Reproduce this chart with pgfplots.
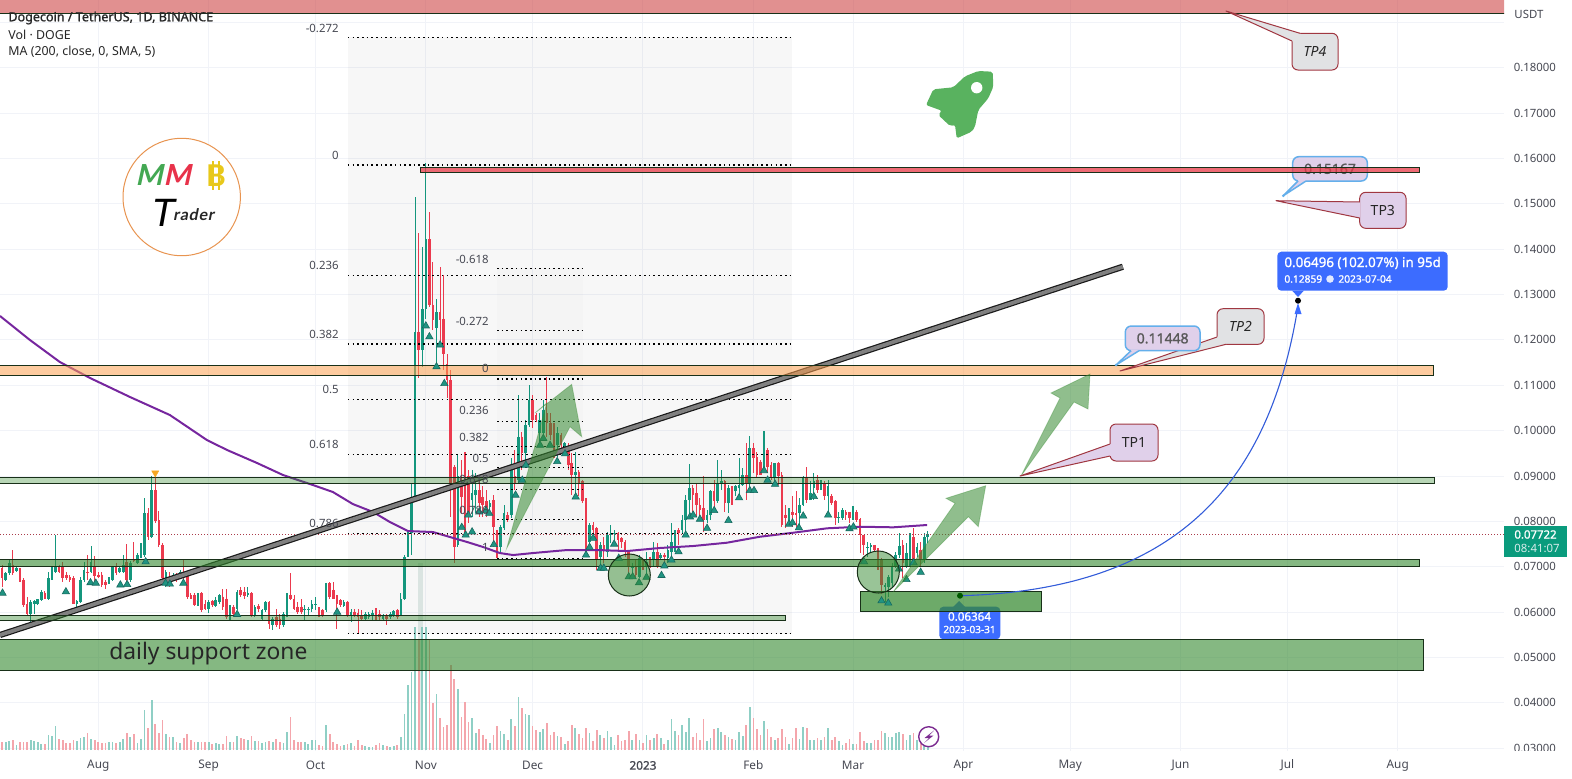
\documentclass[border=0pt]{standalone}
\usepackage{pgfplots}
\usepackage{pgfplotstable}
\usepackage{fontspec}
\setmainfont{Noto Sans}
\newfontfamily\logofont{Lato}
\newfontfamily\fbold{Noto Sans}[FakeBold=1.2]
\pgfplotsset{compat=1.18}
\definecolor{upc}{RGB}{20,150,125}
\definecolor{dnc}{RGB}{235,58,78}
\definecolor{vup}{RGB}{143,207,197}
\definecolor{vdn}{RGB}{244,166,172}
\definecolor{txt}{RGB}{70,72,82}
\definecolor{grd}{RGB}{241,243,248}
\definecolor{zg}{RGB}{52,137,47}
\definecolor{zb}{RGB}{24,48,24}
\definecolor{blu}{RGB}{60,108,255}
\definecolor{lil}{RGB}{224,208,234}
\definecolor{gry}{RGB}{225,226,228}
\definecolor{bdr}{RGB}{160,55,65}
\definecolor{lbl}{RGB}{100,175,235}
\definecolor{tri}{RGB}{32,148,130}
\definecolor{trid}{RGB}{24,105,95}
\definecolor{oran}{RGB}{245,166,35}
\definecolor{zred}{RGB}{205,70,70}
\definecolor{zred2}{RGB}{232,58,71}
\definecolor{zor}{RGB}{252,160,80}
\definecolor{mac}{RGB}{118,38,158}
\definecolor{lastp}{RGB}{170,60,75}
\definecolor{logoo}{RGB}{232,148,80}
\definecolor{logog}{RGB}{67,168,83}
\definecolor{logor}{RGB}{232,50,74}
\definecolor{logoy}{RGB}{232,200,26}
\definecolor{rock}{RGB}{89,178,95}
\definecolor{icon}{RGB}{123,42,144}
\definecolor{tagg}{RGB}{10,155,125}
\definecolor{pale}{RGB}{226,236,233}
\newcommand{\fs}[1]{\fontsize{#1}{#1}\selectfont}
% d = days since 1 Aug 2022; o h l c prices; v volume
\pgfplotstableread{
d o h l c v
-27 .0697 .0704 .0656 .0675 25
-26 .0671 .0689 .0670 .0686 25
-25 .0686 .0715 .0682 .0708 28
-24 .0704 .0737 .0682 .0686 30
-23 .0691 .0700 .0689 .0697 15
-22 .0693 .0697 .0667 .0671 25
-21 .0672 .0675 .0612 .0616 25
-20 .0619 .0634 .0594 .0597 25
-19 .0597 .0627 .0579 .0623 30
-18 .0619 .0627 .0597 .0625 28
-17 .0619 .0630 .0618 .0628 25
-16 .0627 .0649 .0625 .0645 18
-15 .0643 .0647 .0628 .0630 18
-14 .0630 .0689 .0628 .0675 45
-13 .0675 .0700 .0671 .0689 42
-12 .0689 .0770 .0686 .0700 72
-11 .0701 .0704 .0686 .0689 32
-10 .0700 .0711 .0667 .0675 30
-9 .0682 .0689 .0671 .0675 22
-8 .0678 .0682 .0667 .0671 20
-7 .0675 .0680 .0618 .0619 30
-6 .0619 .0627 .0605 .0624 28
-5 .0623 .0678 .0621 .0672 37
-4 .0671 .0711 .0667 .0693 38
-3 .0689 .0726 .0671 .0687 50
-2 .0689 .0746 .0686 .0711 33
-1 .0700 .0724 .0667 .0680 30
0 .0683 .0689 .0675 .0678 25
1 .0683 .0689 .0656 .0660 22
2 .0667 .0671 .0652 .0660 20
3 .0664 .0677 .0662 .0675 25
4 .0671 .0702 .0669 .0700 25
5 .0700 .0708 .0682 .0686 20
6 .0689 .0700 .0686 .0697 25
7 .0689 .0726 .0686 .0704 32
8 .0711 .0750 .0667 .0671 52
9 .0671 .0713 .0667 .0708 40
10 .0715 .0755 .0711 .0713 48
11 .0708 .0730 .0706 .0726 22
12 .0722 .0752 .0721 .0730 32
13 .0726 .0851 .0722 .0819 120
14 .0819 .0829 .0759 .0766 65
15 .0766 .0899 .0763 .0869 150
16 .0869 .0906 .0796 .0800 78
17 .0803 .0824 .0744 .0748 50
18 .0748 .0752 .0671 .0675 90
19 .0675 .0693 .0656 .0689 48
20 .0678 .0689 .0656 .0664 38
21 .0675 .0686 .0671 .0683 38
22 .0680 .0686 .0667 .0671 25
23 .0678 .0693 .0675 .0689 22
24 .0689 .0718 .0671 .0678 35
25 .0686 .0689 .0630 .0634 48
26 .0638 .0642 .0628 .0630 30
27 .0638 .0642 .0614 .0616 25
28 .0616 .0642 .0614 .0640 25
29 .0642 .0645 .0601 .0605 25
30 .0619 .0627 .0605 .0608 25
31 .0608 .0627 .0599 .0623 25
32 .0625 .0627 .0612 .0616 18
33 .0614 .0634 .0612 .0627 22
34 .0623 .0640 .0619 .0638 18
35 .0634 .0652 .0605 .0612 18
36 .0630 .0652 .0586 .0590 42
37 .0590 .0616 .0583 .0610 25
38 .0612 .0616 .0594 .0597 25
39 .0608 .0649 .0605 .0645 42
40 .0649 .0656 .0634 .0638 35
41 .0645 .0656 .0630 .0636 32
42 .0638 .0656 .0634 .0642 30
43 .0642 .0645 .0590 .0594 42
44 .0594 .0616 .0590 .0612 28
45 .0614 .0619 .0601 .0606 28
46 .0586 .0608 .0584 .0605 22
47 .0605 .0625 .0601 .0623 25
48 .0623 .0625 .0564 .0575 27
49 .0572 .0590 .0561 .0586 25
50 .0590 .0608 .0568 .0572 32
51 .0586 .0597 .0564 .0572 25
52 .0572 .0601 .0568 .0597 22
53 .0594 .0643 .0590 .0634 55
54 .0638 .0686 .0627 .0630 100
55 .0630 .0638 .0605 .0608 30
56 .0612 .0623 .0597 .0601 25
57 .0612 .0630 .0597 .0601 25
58 .0605 .0616 .0583 .0608 25
59 .0605 .0612 .0594 .0608 18
60 .0608 .0627 .0601 .0619 30
61 .0616 .0634 .0605 .0619 30
62 .0608 .0612 .0590 .0594 15
63 .0605 .0608 .0590 .0594 12
64 .0605 .0665 .0601 .0664 75
65 .0664 .0667 .0630 .0634 48
66 .0649 .0667 .0628 .0630 25
67 .0638 .0638 .0564 .0619 18
68 .0627 .0630 .0612 .0616 12
69 .0614 .0627 .0612 .0623 15
70 .0623 .0625 .0590 .0594 18
71 .0594 .0608 .0579 .0601 22
72 .0601 .0608 .0590 .0594 12
73 .0599 .0608 .0553 .0590 30
74 .0594 .0605 .0583 .0585 15
75 .0586 .0601 .0583 .0596 12
76 .0590 .0601 .0586 .0597 8
77 .0594 .0605 .0583 .0599 10
78 .0601 .0610 .0583 .0586 15
79 .0597 .0605 .0583 .0590 22
80 .0586 .0597 .0584 .0594 15
81 .0594 .0597 .0572 .0586 12
82 .0590 .0601 .0586 .0597 10
83 .0594 .0605 .0590 .0603 12
84 .0605 .0608 .0586 .0590 15
85 .0594 .0642 .0594 .0630 40
86 .0630 .0726 .0628 .0722 108
87 .0726 .0777 .0722 .0770 195
88 .0774 .0884 .0726 .0843 235
89 .0847 .1516 .0844 .1218 370
90 .1218 .1435 .1115 .1178 330
91 .1178 .1405 .1141 .1269 370
92 .1269 .1589 .1247 .1422 370
93 .1422 .1483 .1273 .1277 330
94 .1277 .1372 .1222 .1244 140
95 .1226 .1291 .1145 .1262 168
96 .1262 .1361 .1185 .1244 95
97 .1247 .1342 .1134 .1170 70
98 .1148 .1170 .1071 .1112 75
99 .1112 .1134 .0810 .0884 255
100 .0921 .0924 .0708 .0744 213
101 .0748 .0946 .0744 .0899 183
102 .0891 .0935 .0818 .0854 98
103 .0884 .0954 .0774 .0847 143
104 .0899 .0913 .0796 .0818 85
105 .0847 .0913 .0810 .0862 95
106 .0858 .0906 .0818 .0869 50
107 .0869 .0895 .0810 .0840 62
108 .0854 .0877 .0810 .0836 45
109 .0844 .0869 .0810 .0825 33
110 .0832 .0847 .0825 .0840 20
111 .0847 .0858 .0744 .0788 45
112 .0774 .0781 .0719 .0744 72
113 .0744 .0792 .0730 .0788 57
114 .0785 .0836 .0781 .0818 48
115 .0814 .0821 .0799 .0803 30
116 .0814 .0939 .0807 .0913 92
117 .0899 .0957 .0869 .0884 72
118 .0891 .1079 .0884 .0987 158
119 .0987 .0998 .0913 .0950 125
120 .0950 .1023 .0928 .1012 107
121 .1012 .1101 .1009 .1068 105
122 .1068 .1079 .1005 .1023 72
123 .1035 .1038 .1020 .1023 60
124 .0994 .1038 .0972 .1023 55
125 .0994 .1068 .0987 .1046 63
126 .1038 .1119 .0987 .1016 82
127 .1016 .1038 .0979 .0990 45
128 .1005 .1016 .0939 .0957 55
129 .0968 .1009 .0943 .0994 42
130 .0990 .0994 .0957 .0968 38
131 .0961 .0975 .0957 .0972 18
132 .0961 .0972 .0913 .0924 28
133 .0928 .0950 .0858 .0902 75
134 .0902 .0954 .0851 .0910 65
135 .0910 .0913 .0855 .0884 47
136 .0888 .0891 .0840 .0844 35
137 .0847 .0851 .0730 .0755 65
138 .0755 .0796 .0741 .0792 50
139 .0792 .0799 .0774 .0781 27
140 .0785 .0788 .0693 .0715 60
141 .0722 .0755 .0700 .0748 45
142 .0748 .0766 .0708 .0737 35
143 .0733 .0777 .0722 .0770 57
144 .0770 .0792 .0752 .0775 38
145 .0772 .0781 .0759 .0775 15
146 .0775 .0777 .0733 .0759 45
147 .0763 .0766 .0741 .0755 28
148 .0755 .0759 .0722 .0733 30
149 .0733 .0737 .0678 .0700 57
150 .0697 .0708 .0678 .0700 30
151 .0700 .0715 .0678 .0682 48
152 .0678 .0726 .0675 .0719 30
153 .0708 .0715 .0693 .0700 20
154 .0700 .0733 .0678 .0711 45
155 .0722 .0722 .0697 .0700 30
156 .0715 .0755 .0700 .0733 35
157 .0733 .0752 .0697 .0700 48
158 .0719 .0730 .0715 .0726 35
159 .0726 .0730 .0700 .0721 18
160 .0719 .0748 .0708 .0737 30
161 .0733 .0796 .0722 .0755 92
162 .0755 .0781 .0733 .0777 58
163 .0781 .0785 .0748 .0774 45
164 .0781 .0814 .0774 .0803 75
165 .0803 .0858 .0774 .0847 55
166 .0847 .0927 .0810 .0873 97
167 .0873 .0880 .0821 .0858 40
168 .0862 .0884 .0810 .0836 50
169 .0836 .0851 .0803 .0825 30
170 .0829 .0899 .0777 .0803 92
171 .0803 .0825 .0796 .0814 28
172 .0814 .0869 .0803 .0866 35
173 .0866 .0891 .0821 .0844 62
174 .0844 .0935 .0840 .0884 65
175 .0884 .0913 .0869 .0888 55
176 .0888 .0891 .0821 .0840 45
177 .0840 .0880 .0818 .0873 40
178 .0873 .0877 .0836 .0862 33
179 .0866 .0880 .0855 .0877 30
180 .0873 .0939 .0847 .0880 55
181 .0880 .0917 .0877 .0902 42
182 .0902 .0972 .0847 .0884 75
183 .0884 .0988 .0866 .0961 128
184 .0961 .0972 .0906 .0939 95
185 .0943 .0954 .0895 .0902 62
186 .0932 .0935 .0902 .0902 45
187 .0928 .1000 .0917 .0957 87
188 .0957 .0961 .0910 .0921 62
189 .0924 .0932 .0891 .0895 40
190 .0895 .0928 .0880 .0928 30
191 .0928 .0932 .0880 .0899 35
192 .0902 .0910 .0788 .0792 62
193 .0814 .0836 .0785 .0807 40
194 .0810 .0829 .0796 .0821 18
195 .0821 .0855 .0788 .0814 35
196 .0818 .0866 .0788 .0814 65
197 .0818 .0851 .0781 .0836 32
198 .0836 .0899 .0833 .0895 70
199 .0895 .0921 .0840 .0847 65
200 .0847 .0888 .0847 .0862 30
201 .0873 .0906 .0847 .0888 30
202 .0891 .0902 .0862 .0869 35
203 .0877 .0891 .0869 .0888 30
204 .0884 .0888 .0847 .0855 38
205 .0855 .0891 .0818 .0877 65
206 .0855 .0860 .0836 .0840 30
207 .0844 .0847 .0792 .0807 38
208 .0807 .0821 .0796 .0810 28
209 .0807 .0829 .0803 .0825 15
210 .0821 .0825 .0803 .0814 22
211 .0821 .0821 .0796 .0807 32
212 .0807 .0833 .0803 .0821 18
213 .0820 .0825 .0799 .0803 18
214 .0805 .0807 .0730 .0770 53
215 .0770 .0770 .0726 .0748 28
216 .0743 .0755 .0722 .0744 20
217 .0744 .0752 .0730 .0748 22
218 .0748 .0748 .0733 .0736 30
219 .0737 .0741 .0693 .0715 30
220 .0716 .0719 .0641 .0660 57
221 .0656 .0664 .0623 .0660 50
222 .0656 .0682 .0634 .0678 40
223 .0664 .0708 .0653 .0700 38
224 .0700 .0733 .0697 .0726 50
225 .0726 .0775 .0719 .0746 55
226 .0748 .0759 .0675 .0708 48
227 .0700 .0752 .0697 .0730 30
228 .0730 .0774 .0700 .0766 45
229 .0766 .0785 .0715 .0715 52
230 .0730 .0752 .0722 .0744 30
231 .0737 .0755 .0700 .0715 20
232 .0715 .0774 .0708 .0766 15
233 .0766 .0778 .0752 .07722 8
}\candles
\pgfplotstableread{
d p
-26.9 .0642
-9.1 .0645
-2.2 .0665
-.7 .0664
6.2 .0660
8.1 .0661
13.3 .0711
18.9 .0664
20.1 .0662
23.9 .0664
39 .0595
67.1 .0600
92 .1231
93 .1207
95 .1141
96 .1189
97.2 .1104
102.1 .0787
103.2 .0770
105 .0777
103.9 .0814
107 .0821
108.9 .0824
109.8 .0818
111.1 .0749
117.2 .0858
119.1 .0891
120.1 .0924
124.1 .0968
125 .0983
126.9 .0968
128.9 .0932
131.1 .0949
134.1 .0854
137 .0726
138 .0743
139 .0763
141.1 .0697
142 .0697
144.9 .0750
146.2 .0719
149 .0678
150.1 .0678
151.9 .0665
154 .0677
158.2 .0681
159 .0702
161 .0715
163 .0733
165 .0770
166.2 .0810
167.1 .0814
169 .0805
171 .0785
173 .0824
177 .0802
180 .0852
183 .0868
184.2 .0868
187 .0912
188 .0891
190.1 .0882
194 .0794
195 .0797
196.8 .0786
198 .0812
201 .0855
205 .0814
211 .0784
212.1 .0788
215.1 .0711
220 .0625
221.9 .0620
224.9 .0695
227 .0672
229 .0709
231 .0688
}\marksup
\pgfplotstableread{
d p
-27.6 .12527
-19.2 .11998
-10.8 .11513
-2.3 .11160
8.9 .10742
20.1 .10345
30.5 .09794
36.2 .09573
44.6 .09287
51.9 .09022
60.3 .08802
65.9 .08648
71.5 .08383
77.2 .08207
81.9 .07987
87.0 .07788
94.0 .07766
98.8 .07656
103.6 .07546
108.1 .07436
112.8 .07303
116.5 .07259
122.1 .07303
131.6 .07369
140.1 .07369
148.5 .07347
157.7 .07414
167.1 .07458
176.6 .07531
185.9 .07663
195.2 .07751
204.7 .07848
213.9 .07883
223.3 .07870
232.8 .07921
}\ma
\pgfplotsset{base/.style={scale only axis,width=752pt,height=375.5pt,at={(0pt,-375.5pt)},anchor=south west,
  xmin=-27.61,xmax=394.86,axis line style={draw=none},tick style={draw=none},major tick length=0pt}}
\newcommand{\fibA}[1]{\addplot[black,line width=.7pt,dash pattern=on .8pt off 1.55pt] coordinates {(70.1,#1)(194.8,#1)};}
\newcommand{\fibB}[1]{\addplot[black,line width=.7pt,dash pattern=on .8pt off 1.55pt] coordinates {(112,#1)(136.1,#1)};}
\newcommand{\zone}[6]{\addplot[fill=#5,fill opacity=#6,draw=zb,line width=.5pt] coordinates {(#1,#3)(#2,#3)(#2,#4)(#1,#4)} -- cycle;}
\newcommand{\callout}[9]{%
  \draw[fill=#1,draw=#2,line width=#3,rounded corners=3pt] (#4) rectangle (#5);
  \fill[#1] (#6) -- (#7) -- (#8) -- cycle;
  \draw[#1,line width=1.2*#3] (#6) -- (#8);
  \draw[#2,line width=#3,line join=round] (#6) -- (#7) -- (#8);
  \path (#4) -- (#5) node[midway,inner sep=0pt,text=black!85] {#9};}
\begin{document}
\begin{tikzpicture}
\useasboundingbox (0pt,0pt) rectangle (786pt,-389pt);
% grid and ticks
\begin{axis}[base,ymin=0.0294,ymax=0.19491,
  grid=major,grid style={grd,line width=.5pt},
  xtick={0,31,61,92,122,153,184,212,243,273,304,334,365},
  xticklabels={Aug,Sep,Oct,Nov,Dec,{\fbold 2023},Feb,Mar,Apr,May,Jun,Jul,Aug},
  ytick={.03,.04,.05,.06,.07,.08,.09,.10,.11,.12,.13,.14,.15,.16,.17,.18},
  extra y ticks={.19},extra y tick labels={},extra tick style={grid=major},
  yticklabel pos=right,
  yticklabel style={anchor=west,xshift=4.7pt,inner sep=0pt,font=\fs{5.7},text=txt,
    /pgf/number format/.cd,fixed,fixed zerofill,precision=5,assume math mode=true},
  xticklabel style={anchor=center,yshift=-7.2pt,inner sep=0pt,font=\fs{5.9},text=txt}]
\addplot[draw=none] coordinates {(0,.1)};
\end{axis}
% volume
\begin{axis}[base,ymin=-3,ymax=2250,xtick=\empty,ytick=\empty]
\addplot[ycomb,pale,line width=2.5pt] coordinates {(90.5,561)};
\addplot[ycomb,vup,line width=.85pt,restrict expr to domain={\thisrow{c}-\thisrow{o}}{0:1}] table[x=d,y=v] {\candles};
\addplot[ycomb,vdn,line width=.85pt,restrict expr to domain={\thisrow{c}-\thisrow{o}}{-1:-0.0000001}] table[x=d,y=v] {\candles};
\end{axis}
\begin{scope}[x=.5pt,y=-.5pt]
% tags lying below drawings
\fill[blu,rounded corners=2pt] (939.3,606.7) rectangle (1000.3,639.3);
\fill[blu] (959,601) -- (953,607) -- (965,607) -- cycle;
\node[text=white,font=\fbold\fs{5.8},inner sep=0pt] at (969.5,616.5) {0.06364};
\node[text=white,font=\fbold\fs{5},inner sep=0pt] at (969.5,629.5) {2023-03-31};
\callout{lil}{lbl}{.75pt}{1292.7,156.7}{1367.3,181}{1298,181}{1283.3,195.7}{1306,181}{\fbold\fs{7}\textcolor{black!65}{0.15167}}
\end{scope}
% price pane
\begin{axis}[base,ymin=0.0294,ymax=0.19491,xtick=\empty,ytick=\empty]
\addplot[fill=black,fill opacity=.03,draw=none] coordinates {(70.1,.18665)(194.8,.18665)(194.8,.05525)(70.1,.05525)} -- cycle;
\addplot[fill=black,fill opacity=.012,draw=none] coordinates {(112,.1358)(136.1,.1358)(136.1,.07187)(112,.07187)} -- cycle;
% wicks and bodies
\addplot[draw=none,error bars/.cd,y dir=both,y explicit,error mark=none,error bar style={upc,line width=.55pt}]
  table[x=d,y=o,y error plus expr=\thisrow{h}-\thisrow{o},y error minus expr=\thisrow{o}-\thisrow{l},restrict expr to domain={\thisrow{c}-\thisrow{o}}{0:1}] {\candles};
\addplot[draw=none,error bars/.cd,y dir=both,y explicit,error mark=none,error bar style={dnc,line width=.55pt}]
  table[x=d,y=o,y error plus expr=\thisrow{h}-\thisrow{o},y error minus expr=\thisrow{o}-\thisrow{l},restrict expr to domain={\thisrow{c}-\thisrow{o}}{-1:-0.0000001}] {\candles};
\addplot[draw=none,error bars/.cd,y dir=plus,y explicit,error mark=none,error bar style={upc,line width=1.3pt}]
  table[x=d,y=o,y error plus expr=\thisrow{c}-\thisrow{o},restrict expr to domain={\thisrow{c}-\thisrow{o}}{0:1}] {\candles};
\addplot[draw=none,error bars/.cd,y dir=minus,y explicit,error mark=none,error bar style={dnc,line width=1.3pt}]
  table[x=d,y=o,y error minus expr=\thisrow{o}-\thisrow{c},restrict expr to domain={\thisrow{c}-\thisrow{o}}{-1:-0.0000001}] {\candles};
% moving average
\addplot[mac,line width=1pt] table[x=d,y=p] {\ma};
% last price
\addplot[lastp,line width=.4pt,dash pattern=on .5pt off 1pt] coordinates {(-27.61,.07722)(394.86,.07722)};
% fibonacci levels
\fibA{.18665}\fibA{.15855}\fibA{.13417}\fibA{.11910}\fibA{.10689}\fibA{.09470}\fibA{.07735}\fibA{.05525}
\fibB{.13580}\fibB{.12203}\fibB{.11138}\fibB{.10206}\fibB{.09646}\fibB{.09192}\fibB{.08707}\fibB{.08046}\fibB{.07187}
% trend line
\addplot[black!90,line width=3.1pt] coordinates {(-27.61,.05496)(287.8,.13613)};
\addplot[black!50,line width=1.9pt] coordinates {(-27.61,.05496)(287.8,.13613)};
% zones
\zone{-29}{396}{.19193}{.1960}{zred}{.6}
\zone{90.6}{371.1}{.15804}{.15685}{zred2}{.75}
\zone{-29}{375}{.11431}{.11220}{zor}{.55}
\zone{-29}{375.2}{.08963}{.08846}{zg}{.35}
\zone{-29}{371}{.07165}{.07010}{zg}{.6}
\zone{-29}{192.9}{.05931}{.05820}{zg}{.42}
\zone{-29}{372.1}{.05401}{.04725}{zg}{.6}
\zone{214}{264.9}{.06459}{.06019}{zg}{.72}
% markers
\addplot[only marks,mark=triangle*,mark size=2.1pt,mark options={fill=tri,draw=trid,line width=.3pt}] table[x=d,y=p] {\marksup};
\addplot[only marks,mark=triangle*,mark size=2.1pt,mark options={rotate=180,fill=oran,draw=oran,line width=.2pt}] coordinates {(16,.0907)};
\end{axis}
\begin{scope}[x=.5pt,y=-.5pt]
% circles
\draw[fill=zg,fill opacity=.5,draw=zb,line width=.5pt] (629.3,575) circle (21);
\draw[fill=zg,fill opacity=.5,draw=zb,line width=.5pt] (878.3,572) circle (21);
% arrows
\tikzset{arw/.style={fill=zg,fill opacity=.55,draw=zg,draw opacity=.35,line width=.4pt}}
\path[arw] (506.7,548.3) -- (546.7,403) -- (535,413) -- (571.7,384.3) -- (581.7,436.7) -- (570,426.7) -- cycle;
\path[arw] (893.3,591.7) -- (955,503.3) -- (946,498.3) -- (985.7,485.7) -- (978.3,526.7) -- (968.3,516.7) -- cycle;
\path[arw] (1021,476) -- (1060,398) -- (1051,393) -- (1090,374) -- (1088,409) -- (1074,402) -- cycle;
% forecast
\draw[blu!85!black,line width=.55pt] (960,595.7) .. controls (1180,590) and (1270,480) .. (1298,306);
\fill[blu] (1298,303) -- (1294.5,314) -- (1301.5,314) -- cycle;
\fill[black] (1298,300.7) circle (3);
\fill[green!35!black] (960,595.7) circle (3);
\fill[blu,rounded corners=2pt] (1277.3,251.7) rectangle (1447.7,290.7);
\fill[blu] (1298,297) -- (1292,290.5) -- (1304,290.5) -- cycle;
\node[anchor=west,inner sep=0pt,text=white,font=\fbold\fs{6.7}] at (1284,263) {0.06496 (102.07\%) in 95d};
\node[anchor=west,inner sep=0pt,text=white,font=\fbold\fs{5.1}] at (1284,279) {0.12859};
\fill[white!85!blu] (1330,279) circle (3.8);
\node[anchor=west,inner sep=0pt,text=white,font=\fbold\fs{5.1}] at (1338,279) {2023-07-04};
% callouts
\callout{lil}{bdr}{.5pt}{1110,424}{1158,461}{1110,444}{1020,476}{1110,456}{\fs{7}TP1}
\callout{gry}{bdr}{.5pt}{1217,308.7}{1264,344.3}{1217,337}{1120,371}{1226,344.3}{\fs{7}\itshape TP2}
\callout{lil}{bdr}{.5pt}{1359.7,192.3}{1406,228.3}{1359.7,202}{1276,200.7}{1359.7,218}{\fs{7}TP3}
\callout{gry}{bdr}{.5pt}{1292,33.3}{1338,70}{1300,33.3}{1226,11}{1292,41}{\fs{7}\itshape TP4}
\callout{lil}{lbl}{.75pt}{1125.3,326}{1200,350.7}{1131,350.7}{1116,365}{1139,350.7}{\fbold\fs{7}\textcolor{black!65}{0.11448}}
\fill[lbl] (1116,365) circle (1.5);
\fill[lbl] (1283.3,195.7) circle (1.5);
% fib labels
\tikzset{fb/.style={anchor=east,inner sep=0pt,text=txt,font=\fs{5.7}}}
\node[fb] at (339,28) {-0.272};
\node[fb] at (339,155.5) {0};
\node[fb] at (339,265) {0.236};
\node[fb] at (339,334) {0.382};
\node[fb] at (339,389) {0.5};
\node[fb] at (339,444.5) {0.618};
\node[fb] at (339,523) {0.786};
\node[fb] at (489,259) {-0.618};
\node[fb] at (489,321) {-0.272};
\node[fb] at (489,368) {0};
\node[fb] at (489,410) {0.236};
\node[fb] at (489,437) {0.382};
\node[fb] at (489,458) {0.5};
\node[fb] at (489,479) {0.618};
\node[fb] at (489,510) {0.786};
\node[fb] at (489,547) {1};
\node[inner sep=0pt,anchor=west,font=\fs{11.4},text=black!85] at (109,654) {daily support zone};
% legend
\node[anchor=west,inner sep=0pt,font=\fbold\fs{6.28},text=black!85] at (8,18) {Dogecoin / TetherUS, 1D, BINANCE};
\node[anchor=west,inner sep=0pt,font=\fs{6.2},text=black!85] at (8,35) {Vol · DOGE};
\node[anchor=west,inner sep=0pt,font=\fs{6.2},text=black!85] at (8,51.5) {MA (200, close, 0, SMA, 5)};
% logo
\draw[logoo,line width=.5pt,fill=white] (181.7,197) circle (58.7);
\node[inner sep=0pt,xslant=.22,font=\logofont\fs{14.5}\bfseries,text=logog] at (151.5,175.5) {M};
\node[inner sep=0pt,xslant=.22,font=\logofont\fs{14.5}\bfseries,text=logor] at (179.5,175.5) {M};
\node[inner sep=0pt,font=\logofont\fs{15}\bfseries,text=logoy] at (216,175.5) {B};
\draw[logoy,line width=.8pt] (213,161) -- (213,190) (219,161) -- (219,190);
\node[inner sep=0pt,xslant=.18,font=\logofont\fs{19},text=black] at (164.5,212.5) {T};
\node[inner sep=0pt,anchor=west,xslant=.2,font=\logofont\fs{8}\bfseries,text=black!85] at (174,215) {r\kern.35pt a\kern.35pt d\kern.35pt e\kern.35pt r};
% rocket
\fill[rock,rounded corners=1pt] (992.7,71.7) -- (993.3,86.7) -- (988.3,98.3) -- (978.3,110) -- (975,126.7) -- (971.7,131.7) -- (956.7,138.3) -- (955,125) -- (950,126) -- (938.3,115) -- (941.7,110.7) -- (926,105) -- (933.3,89.3) -- (953.3,87.3) -- (965,76.3) -- (978.3,71) -- cycle;
\fill[white] (976.7,87.7) circle (5.7);
% volume-pane icon
\draw[fill=white,draw=icon,line width=.7pt] (928.7,736.7) circle (10);
\fill[icon] (934,730.5) -- (924.5,738) -- (929,738) -- (924,743) -- (933.5,735.5) -- (929,735.5) -- cycle;
% right scale overlays
\fill[white] (1504,750.7) rectangle (1572,778);
\node[anchor=west,inner sep=0pt,font=\fs{5.7},text=txt] at (1514,14) {USDT};
\fill[tagg] (1504,526) rectangle (1566.7,556.7);
\node[anchor=west,inner sep=0pt,font=\fbold\fs{5.7},text=white] at (1514,534.5) {0.07722};
\node[anchor=west,inner sep=0pt,font=\fs{5.7},text=white!85!teal] at (1514,548.5) {08:41:07};
\end{scope}
\end{tikzpicture}
\end{document}
